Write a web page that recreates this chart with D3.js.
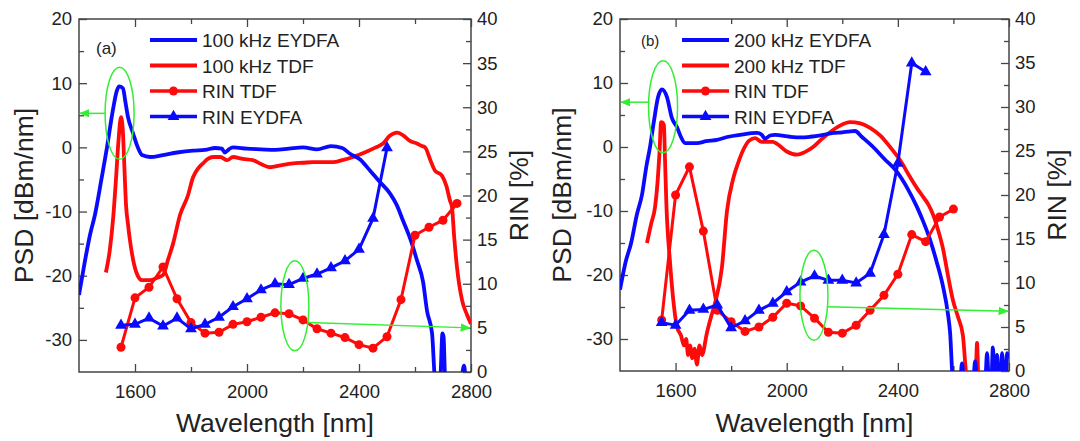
<!DOCTYPE html>
<html><head><meta charset="utf-8">
<script src="https://cdn.jsdelivr.net/npm/d3@7"></script>
<style>body{margin:0;background:#fff}text{font-family:"Liberation Sans",Arial,sans-serif;fill:#222}</style>
</head><body><svg id="c" width="1080" height="441"></svg>
<script>
// ---------- data ----------
const xTicksMajor = [1600, 2000, 2400, 2800];
const psdTicks = [-30, -20, -10, 0, 10, 20];
const rinTicks = [0, 5, 10, 15, 20, 25, 30, 35, 40];

const legendA = ["100 kHz EYDFA", "100 kHz TDF", "RIN TDF", "RIN EYDFA"];
const legendB = ["200 kHz EYDFA", "200 kHz TDF", "RIN TDF", "RIN EYDFA"];

const psdEydfa100 = [[1400,-23],[1420,-18],[1440,-13.5],[1457,-10.5],[1480,-5],[1500,0],[1521,5.8],[1535,8.8],[1543,9.5],[1557,9.2],[1566,7],[1575,4.7],[1593,2.2],[1610,0],[1625,-1.2],[1654,-1.5],[1700,-1.2],[1750,-0.8],[1807,-0.5],[1850,-0.4],[1886,-0.1],[1910,-0.2],[1921,-0.8],[1935,-0.3],[1950,0],[2000,-0.2],[2050,-0.3],[2100,-0.4],[2150,-0.2],[2200,0],[2250,-0.3],[2300,0.2],[2340,-0.1],[2368,-1],[2404,-1.9],[2439,-3.6],[2475,-5.4],[2511,-7.2],[2535,-9],[2557,-11.4],[2585,-14.5],[2607,-17.6],[2629,-21],[2643,-25.5],[2661,-29],[2672,-36],[2690,-36],[2698,-29],[2702,-29.5],[2708,-36],[2765,-36],[2775,-34],[2782,-36],[2800,-36]];
const psdTdf100 = [[1496,-19.5],[1510,-16],[1522,-11],[1532,-5],[1541,1],[1550,4.7],[1556,3],[1562,-3],[1568,-9],[1575,-12],[1589,-16.5],[1605,-19.5],[1625,-20.7],[1654,-20.7],[1680,-20.3],[1700,-19.9],[1718,-17.5],[1736,-15],[1761,-10.5],[1789,-7.5],[1807,-4.7],[1825,-3.3],[1843,-2.5],[1860,-1.8],[1879,-1.5],[1905,-1.5],[1929,-2],[1950,-1.5],[1985,-1.8],[2021,-2],[2050,-2.6],[2082,-3.1],[2120,-2.8],[2164,-2.5],[2200,-2.4],[2236,-2.3],[2270,-2.3],[2307,-2.3],[2340,-2],[2379,-1.5],[2420,-0.8],[2460,0],[2486,0.6],[2510,1.8],[2536,2.3],[2560,1.8],[2582,1],[2607,0.6],[2625,0.2],[2636,0],[2655,-2],[2671,-3.6],[2696,-4.4],[2712,-6],[2725,-8.3],[2732,-9.3],[2740,-14],[2750,-18.7],[2768,-23.8],[2785,-26],[2800,-27.5]];
const rinWlA_tdf = [1550,1600,1650,1700,1750,1800,1850,1900,1950,2000,2050,2100,2150,2200,2250,2300,2350,2400,2450,2500,2550,2600,2650,2700,2750];
const rinTdfA = [2.8,8.4,9.6,11.9,8.3,5.6,4.4,4.5,5.4,5.7,6.2,6.7,6.6,5.9,4.9,4.4,3.9,3.1,2.7,4.0,8.2,15.5,16.4,17.2,19.1];
const rinWlA_ey = [1550,1600,1650,1700,1750,1800,1850,1900,1950,2000,2050,2100,2150,2200,2250,2300,2350,2400,2450,2500];
const rinEyA = [5.3,5.4,6.1,5.2,6.1,4.9,5.4,6.2,7.4,8.3,9.3,10.0,9.9,10.6,11.1,11.8,12.6,13.9,17.4,25.4];

const psdEydfa200 = [[1400,-22.3],[1420,-18],[1440,-15],[1461,-10.5],[1479,-7.5],[1495,-3],[1508,0],[1522,4],[1537,7.8],[1551,9],[1569,7.8],[1587,4.5],[1605,3.1],[1620,1.5],[1634,0.6],[1677,0.6],[1710,0.9],[1749,1.1],[1790,1.6],[1832,1.9],[1893,2.2],[1910,1.9],[1922,1.3],[1940,1.8],[1958,1.9],[2012,1.6],[2050,1.5],[2084,1.6],[2131,1.9],[2167,2.2],[2200,2.3],[2221,2.4],[2246,2.5],[2270,1.6],[2311,0],[2350,-1.8],[2397,-3.9],[2435,-6.5],[2469,-9.4],[2490,-11.5],[2516,-14.5],[2540,-18],[2563,-21.9],[2580,-26],[2588,-29],[2598,-36],[2625,-36],[2631,-33.8],[2637,-36],[2672,-36],[2678,-33.5],[2684,-36],[2715,-36],[2721,-32.2],[2727,-36],[2737,-36],[2742,-31.3],[2748,-36],[2752,-36],[2757,-32.5],[2762,-36],[2770,-36],[2775,-32.2],[2781,-36],[2788,-36],[2793,-32.2],[2800,-33]];
const psdTdf200 = [[1497,-15],[1512,-12],[1526,-9.4],[1536,-5],[1542,-1],[1548,3.9],[1554,3.8],[1558,3.4],[1562,-2],[1567,-9],[1580,-18],[1592,-24],[1605,-28.1],[1620,-29.5],[1630,-31],[1638,-30],[1645,-32.5],[1652,-31],[1660,-33],[1668,-31.5],[1677,-34],[1686,-31],[1695,-32.5],[1713,-29],[1728,-26.5],[1742,-24.4],[1767,-18.75],[1785,-10],[1807,-5],[1825,-2.5],[1843,-0.5],[1865,1],[1886,1.4],[1910,0.8],[1929,0.8],[1950,0.8],[1965,0.5],[2000,-0.7],[2037,-1.2],[2065,-0.8],[2095,0],[2125,1.2],[2156,2.3],[2190,3.3],[2228,3.9],[2265,3.7],[2300,3],[2336,1.8],[2372,0],[2410,-2.2],[2444,-4.7],[2470,-6.5],[2491,-7.8],[2510,-9],[2527,-10.6],[2545,-13],[2563,-16],[2580,-20],[2598,-23.9],[2616,-26.5],[2634,-29.4],[2649,-36],[2680,-36],[2685,-30.6],[2690,-36],[2780,-36],[2786,-33.5],[2792,-36],[2800,-36]];
const rinWlB_tdf = [1550,1600,1650,1700,1750,1800,1850,1900,1950,2000,2050,2100,2150,2200,2250,2300,2350,2400,2450,2500,2550,2600];
const rinTdfB = [5.8,20,23.2,15.9,6.9,5.6,4.5,5,6.1,7.7,7.4,6,4.4,4.3,5.2,6.9,8.6,11,15.5,14.7,17.5,18.4];
const rinWlB_ey = [1550,1600,1650,1700,1750,1800,1850,1900,1950,2000,2050,2100,2150,2200,2250,2300,2350,2400,2450,2500];
const rinEyB = [5.5,5.2,6.9,7,7.5,4.9,5.7,6.9,7.7,9,10.1,10.8,10.3,10.3,10,11.1,15.5,23.6,35,34];

// annotation anchors in data units
const annotA = {peak:[1545, 5.3, 1400, 5.3], rin:[2171, 7.5, 2800, 5.0, 5.6]};
const annotB = {peak:[1555, 6.3, 1400, 7.0], rin:[2098, 8.6, 2800, 6.8, 7.3]};

// ---------- drawing ----------
const BLUE = "#0a0aff", RED = "#ff0a0a", GREEN = "#33ee33", AX = "#444";
const svg = d3.select("#c");
svg.append("defs").append("marker").attr("id","ah").attr("viewBox","0 0 10 10")
  .attr("refX",9).attr("refY",5).attr("markerWidth",7).attr("markerHeight",7).attr("orient","auto-start-reverse")
  .append("path").attr("d","M0,1 L10,5 L0,9 Z").attr("fill",GREEN);

function panel(cfg){
  const {x0,x1,y0,y1,id} = cfg;
  const x = d3.scaleLinear().domain([1400,2800]).range([x0,x1]);
  const yL = d3.scaleLinear().domain([-35,20]).range([y1,y0]);
  const yR = d3.scaleLinear().domain([0,40]).range([y1,y0]);
  const g = svg.append("g");
  g.append("clipPath").attr("id","clip"+id).append("rect").attr("x",x0).attr("y",y0).attr("width",x1-x0).attr("height",y1-y0);
  const fmt = d=>String(d);
  const styleAxis = s=>{ s.select(".domain").remove(); s.selectAll("line").attr("stroke",AX).attr("stroke-width",1.3);
    s.selectAll("text").attr("font-size",18.5).attr("fill","#222").attr("font-family","Liberation Sans, Arial, sans-serif"); };
  g.append("g").attr("transform",`translate(0,${y1})`).call(d3.axisBottom(x).tickValues(xTicksMajor).tickFormat(fmt).tickSize(-8).tickPadding(13)).call(styleAxis);
  g.append("g").attr("transform",`translate(0,${y1})`).call(d3.axisBottom(x).tickValues([1800,2200,2600]).tickFormat("").tickSize(-5)).call(styleAxis);
  g.append("g").attr("transform",`translate(0,${y0})`).call(d3.axisTop(x).tickValues(xTicksMajor).tickFormat("").tickSize(-8)).call(styleAxis);
  g.append("g").attr("transform",`translate(0,${y0})`).call(d3.axisTop(x).tickValues([1800,2200,2600]).tickFormat("").tickSize(-5)).call(styleAxis);
  g.append("g").attr("transform",`translate(${x0},0)`).call(d3.axisLeft(yL).tickValues(psdTicks).tickFormat(d=>d<0?"-"+Math.abs(d):d).tickSize(-8).tickPadding(7)).call(styleAxis);
  g.append("g").attr("transform",`translate(${x0},0)`).call(d3.axisLeft(yL).tickValues([-25,-15,-5,5,15]).tickFormat("").tickSize(-5)).call(styleAxis);
  g.append("g").attr("transform",`translate(${x1},0)`).call(d3.axisRight(yR).tickValues(rinTicks).tickFormat(fmt).tickSize(-8).tickPadding(6)).call(styleAxis);
  g.append("g").attr("transform",`translate(${x1},0)`).call(d3.axisRight(yR).tickValues(d3.range(2.5,40,5)).tickFormat("").tickSize(-5)).call(styleAxis);
  g.append("rect").attr("x",x0).attr("y",y0).attr("width",x1-x0).attr("height",y1-y0).attr("fill","none").attr("stroke",AX).attr("stroke-width",1.5);

  g.append("text").attr("x",(x0+x1)/2).attr("y",432).attr("text-anchor","middle").attr("font-size",26.5).text("Wavelength [nm]");
  g.append("text").attr("transform",`translate(${cfg.psdTitleX},${(y0+y1)/2}) rotate(-90)`).attr("text-anchor","middle").attr("font-size",26.5).text("PSD [dBm/nm]");
  g.append("text").attr("transform",`translate(${x1+57},${(y0+y1)/2}) rotate(-90)`).attr("text-anchor","middle").attr("font-size",26.5).text("RIN [%]");

  const plot = g.append("g").attr("clip-path",`url(#clip${id})`);
  const lineL = d3.line().x(d=>x(d[0])).y(d=>yL(d[1])).curve(d3.curveMonotoneX);
  const lineR = d3.line().x(d=>x(d[0])).y(d=>yR(d[1]));
  plot.append("path").datum(cfg.psdRed).attr("d",lineL).attr("fill","none").attr("stroke",RED).attr("stroke-width",3.8).attr("stroke-linejoin","round");
  plot.append("path").datum(cfg.psdBlue).attr("d",lineL).attr("fill","none").attr("stroke",BLUE).attr("stroke-width",3.8).attr("stroke-linejoin","round");
  const tdf = cfg.rinTdfWl.map((w,i)=>[w,cfg.rinTdf[i]]);
  const ey = cfg.rinEyWl.map((w,i)=>[w,cfg.rinEy[i]]);
  plot.append("path").datum(tdf).attr("d",lineR).attr("fill","none").attr("stroke",RED).attr("stroke-width",3);
  plot.selectAll(".c").data(tdf).enter().append("circle").attr("cx",d=>x(d[0])).attr("cy",d=>yR(d[1])).attr("r",4.5).attr("fill",RED);
  plot.append("path").datum(ey).attr("d",lineR).attr("fill","none").attr("stroke",BLUE).attr("stroke-width",3);
  const tri = d3.symbol().type(d3.symbolTriangle).size(60);
  plot.selectAll(".t").data(ey).enter().append("path").attr("d",tri).attr("transform",d=>`translate(${x(d[0])},${yR(d[1])})`).attr("fill",BLUE);

  const a = cfg.annot;
  const cxp = x(a.peak[0]), cyp = yL(a.peak[1]);
  g.append("ellipse").attr("cx",cxp).attr("cy",cyp).attr("rx",14.5).attr("ry",46).attr("fill","none").attr("stroke",GREEN).attr("stroke-width",1.5);
  g.append("line").attr("x1",cxp-14.3).attr("y1",yL(a.peak[3])).attr("x2",x(a.peak[2])+1).attr("y2",yL(a.peak[3])).attr("stroke",GREEN).attr("stroke-width",1.5).attr("marker-end","url(#ah)");
  const cxr = x(a.rin[0]), cyr = yR(a.rin[1]);
  g.append("ellipse").attr("cx",cxr).attr("cy",cyr).attr("rx",14).attr("ry",45).attr("fill","none").attr("stroke",GREEN).attr("stroke-width",1.5);
  g.append("line").attr("x1",cxr+13.5).attr("y1",yR(a.rin[4])).attr("x2",x(a.rin[2])-1).attr("y2",yR(a.rin[3])).attr("stroke",GREEN).attr("stroke-width",1.5).attr("marker-end","url(#ah)");

  g.append("text").attr("x",cfg.labX).attr("y",cfg.labY).attr("font-size",cfg.labSize).text(cfg.label);

  const lg = g.append("g");
  const cols = [BLUE, RED, RED, BLUE];
  cfg.legend.forEach((t,i)=>{
    const yy = 40 + i*25.5, lx = cfg.legX;
    lg.append("line").attr("x1",lx).attr("x2",lx+47).attr("y1",yy).attr("y2",yy).attr("stroke",cols[i]).attr("stroke-width",i<2?4:3.5);
    if(i===2) lg.append("circle").attr("cx",lx+23.5).attr("cy",yy).attr("r",4.5).attr("fill",RED);
    if(i===3) lg.append("path").attr("d",tri).attr("transform",`translate(${lx+23.5},${yy})`).attr("fill",BLUE);
    lg.append("text").attr("x",lx+52).attr("y",yy+7).attr("font-size",19).text(t);
  });
}

panel({id:"A",x0:79,x1:471,y0:19,y1:372,psdTitleX:33,psdBlue:psdEydfa100,psdRed:psdTdf100,rinTdfWl:rinWlA_tdf,rinTdf:rinTdfA,rinEyWl:rinWlA_ey,rinEy:rinEyA,annot:annotA,legend:legendA,legX:150,label:"(a)",labX:96,labY:54,labSize:17});
panel({id:"B",x0:620,x1:1009,y0:19,y1:371,psdTitleX:571,psdBlue:psdEydfa200,psdRed:psdTdf200,rinTdfWl:rinWlB_tdf,rinTdf:rinTdfB,rinEyWl:rinWlB_ey,rinEy:rinEyB,annot:annotB,legend:legendB,legX:682,label:"(b)",labX:641,labY:46,labSize:15});
</script></body></html>
